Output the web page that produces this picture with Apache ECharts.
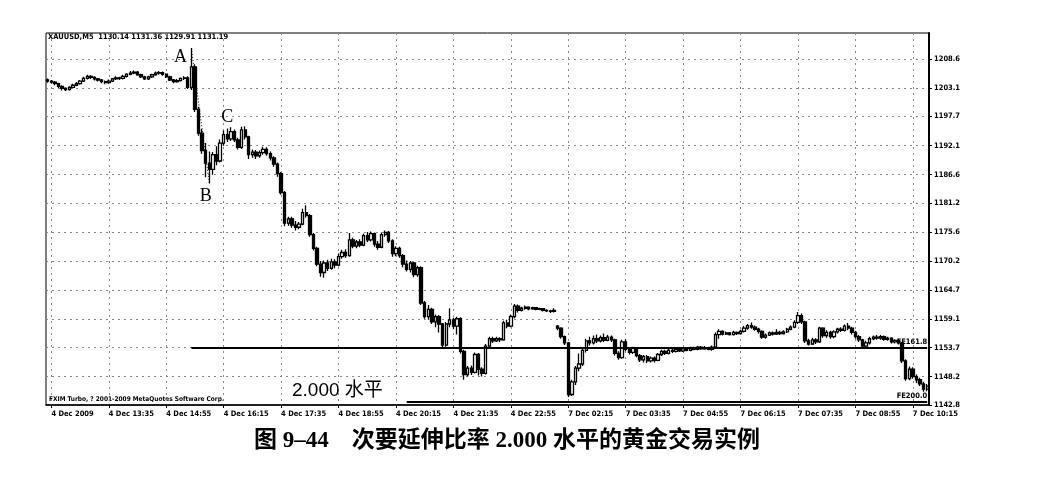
<!DOCTYPE html>
<html><head><meta charset="utf-8">
<script src="https://cdn.jsdelivr.net/npm/echarts/dist/echarts.min.js"></script>
<style>html,body{margin:0;padding:0;background:#fff}#c{width:1043px;height:478px}</style>
</head><body><div id="c"></div>
<script>
// Price axis tick values (as printed on the right-hand scale)
const yTicks = [1142.8, 1148.2, 1153.7, 1159.1, 1164.7, 1170.2, 1175.6, 1181.2, 1186.6, 1192.1, 1197.7, 1203.1, 1208.6];
// Bars that carry a time label, and their texts
const xTickBars = [1, 17, 33, 49, 65, 81, 97, 113, 129, 145, 161, 177, 193, 209, 225, 241];
const xTickLabels = ['4 Dec 2009', '4 Dec 13:35', '4 Dec 14:55', '4 Dec 16:15', '4 Dec 17:35', '4 Dec 18:55', '4 Dec 20:15', '4 Dec 21:35', '4 Dec 22:55', '7 Dec 02:15', '7 Dec 03:35', '7 Dec 04:55', '7 Dec 06:15', '7 Dec 07:35', '7 Dec 08:55', '7 Dec 10:15'];

// M5 candles [open, close, low, high] — Friday 4 Dec 12:10 .. 23:55
const fridayBars = [
[1204.6,1204.4,1204.1,1204.9],[1204.4,1204.2,1203.9,1204.6],[1204.2,1203.9,1203.6,1204.4],[1203.9,1203.4,1203.1,1204.1],
[1203.4,1203.0,1202.6,1203.6],[1203.0,1202.8,1202.5,1203.2],[1202.8,1203.2,1202.6,1203.4],[1203.2,1203.6,1203.0,1203.9],
[1203.6,1203.9,1203.4,1204.2],[1203.9,1204.4,1203.7,1204.6],[1204.4,1204.9,1204.2,1205.2],[1204.9,1205.3,1204.7,1205.6],
[1205.3,1205.1,1204.8,1205.5],[1205.1,1204.8,1204.5,1205.3],[1204.8,1204.6,1204.3,1205.0],[1204.6,1204.3,1204.0,1204.8],
[1204.3,1204.1,1203.8,1204.5],[1204.1,1204.4,1203.9,1204.7],[1204.4,1204.8,1204.2,1205.0],[1204.8,1205.0,1204.6,1205.3],
[1205.0,1204.9,1204.6,1205.2],[1204.9,1205.3,1204.7,1205.6],[1205.3,1205.7,1205.1,1205.9],[1205.7,1205.9,1205.5,1206.3],
[1205.9,1206.1,1205.7,1206.4],[1206.1,1205.6,1205.4,1206.3],[1205.6,1205.2,1205.0,1205.8],[1205.2,1204.8,1204.6,1205.4],
[1204.8,1205.2,1204.6,1205.4],[1205.2,1205.6,1205.0,1205.8],[1205.6,1205.9,1205.4,1206.2],[1205.9,1206.0,1205.6,1206.3],
[1206.0,1205.7,1205.4,1206.2],[1205.7,1205.2,1205.0,1205.9],[1205.2,1204.6,1204.4,1205.4],[1204.6,1204.3,1204.0,1204.8],
[1204.3,1204.5,1204.1,1204.8],[1204.5,1204.9,1204.3,1205.1],[1204.9,1205.0,1204.6,1205.3],[1205.0,1203.2,1202.9,1205.3],
[1203.2,1207.1,1202.7,1210.7],[1207.1,1199.0,1198.5,1207.6],[1199.0,1194.5,1194.0,1199.5],[1194.5,1191.2,1190.6,1195.3],
[1191.2,1188.8,1186.1,1192.6],[1188.8,1187.6,1184.9,1191.0],[1187.6,1190.4,1186.6,1190.9],[1190.4,1189.2,1188.4,1192.0],
[1189.2,1192.6,1188.9,1193.3],[1192.6,1194.2,1192.1,1195.0],[1194.2,1193.4,1192.8,1195.4],[1193.4,1194.8,1193.0,1195.6],
[1194.8,1193.2,1192.8,1195.2],[1193.2,1191.8,1191.4,1193.6],[1191.8,1195.1,1191.5,1195.7],[1195.1,1193.8,1193.3,1195.8],
[1193.8,1190.4,1189.6,1194.0],[1190.4,1190.9,1189.8,1191.4],[1190.9,1190.2,1189.6,1191.3],[1190.2,1190.8,1189.8,1191.2],
[1190.8,1191.4,1190.4,1191.9],[1191.4,1190.6,1190.2,1191.8],[1190.6,1189.8,1189.3,1191.0],[1189.8,1188.6,1188.1,1190.1],
[1188.6,1186.8,1186.2,1188.9],[1186.8,1183.2,1182.8,1187.1],[1183.2,1177.4,1176.8,1183.5],[1177.4,1178.2,1176.9,1178.6],
[1178.2,1177.0,1176.5,1178.6],[1177.0,1176.6,1176.0,1177.8],[1176.6,1177.2,1176.2,1177.6],[1177.2,1179.4,1177.0,1180.1],
[1179.4,1178.8,1178.4,1180.8],[1178.8,1175.2,1174.8,1179.1],[1175.2,1172.6,1172.2,1175.5],[1172.6,1169.6,1169.2,1172.9],
[1169.6,1168.0,1167.2,1170.2],[1168.0,1169.8,1167.0,1170.3],[1169.8,1168.8,1168.3,1170.4],[1168.8,1170.0,1168.5,1170.6],
[1170.0,1169.4,1168.8,1170.5],[1169.4,1171.0,1169.2,1171.6],[1171.0,1171.8,1170.6,1172.3],[1171.8,1171.2,1170.8,1172.4],
[1171.2,1174.2,1171.0,1175.5],[1174.2,1173.0,1172.6,1174.6],[1173.0,1173.8,1172.6,1174.2],[1173.8,1173.2,1172.8,1174.3],
[1173.2,1175.0,1173.0,1175.4],[1175.0,1174.2,1173.8,1175.7],[1174.2,1175.4,1173.9,1175.8],[1175.4,1173.4,1172.9,1175.6],
[1173.4,1172.8,1172.3,1174.0],[1172.8,1175.2,1172.6,1175.6],[1175.2,1175.6,1174.8,1176.0],[1175.6,1174.0,1173.6,1175.9],
[1174.0,1171.6,1171.0,1174.3],[1171.6,1172.6,1171.1,1173.0],[1172.6,1171.2,1170.8,1172.9],[1171.2,1169.6,1169.0,1171.5],
[1169.6,1168.6,1168.2,1170.3],[1168.6,1169.8,1168.0,1170.2],[1169.8,1167.6,1167.1,1170.0],[1167.6,1168.9,1167.2,1169.3],
[1168.9,1162.2,1161.8,1169.2],[1162.2,1159.6,1159.2,1162.6],[1159.6,1161.0,1159.0,1161.8],[1161.0,1158.6,1158.2,1161.3],
[1158.6,1159.6,1157.6,1160.0],[1159.6,1158.2,1156.6,1159.9],[1158.2,1154.2,1153.8,1158.4],[1154.2,1158.2,1153.9,1158.6],
[1158.2,1159.0,1157.6,1161.2],[1159.0,1157.8,1157.2,1159.4],[1157.8,1159.2,1156.2,1159.6],[1159.2,1153.0,1152.6,1159.5],
[1153.0,1148.6,1147.6,1153.3],[1148.6,1149.8,1148.2,1150.2],[1149.8,1149.0,1148.5,1150.3],[1149.0,1152.4,1148.8,1152.8],
[1152.4,1149.6,1148.4,1152.7],[1149.6,1148.8,1148.2,1150.0],[1148.8,1154.0,1148.6,1154.4],[1154.0,1155.4,1153.6,1155.8],
[1155.4,1155.0,1154.6,1155.8],[1155.0,1155.4,1154.8,1155.8],[1155.4,1155.2,1154.8,1155.7],[1155.2,1158.4,1155.0,1158.8],
[1158.4,1157.8,1157.4,1159.0],[1157.8,1159.6,1157.6,1160.0],[1159.6,1161.6,1159.3,1162.0],[1161.6,1160.8,1160.4,1161.9],
[1160.8,1161.2,1160.6,1161.5],[1161.2,1161.4,1160.9,1161.7],[1161.4,1161.1,1160.8,1161.6],[1161.1,1161.3,1160.9,1161.5],
[1161.3,1161.0,1160.8,1161.4],[1161.0,1161.1,1160.8,1161.3],[1161.1,1160.8,1160.6,1161.2],[1160.8,1160.7,1160.5,1161.0],
[1160.7,1160.6,1160.3,1160.9],[1160.6,1160.8,1160.4,1161.2]
];
// Monday 7 Dec 02:00 .. 10:35
const mondayBars = [
[1157.8,1157.4,1157.0,1158.0],[1157.4,1155.8,1155.4,1157.6],[1155.8,1154.6,1154.2,1156.0],[1154.6,1144.8,1144.3,1154.8],
[1144.8,1147.2,1144.5,1147.6],[1147.2,1149.8,1146.6,1150.2],[1149.8,1150.6,1149.2,1152.6],[1150.6,1153.2,1150.2,1153.6],
[1153.2,1155.0,1152.8,1155.4],[1155.0,1154.6,1154.1,1155.8],[1154.6,1155.4,1154.3,1156.0],[1155.4,1155.0,1154.6,1156.2],
[1155.0,1155.6,1154.7,1156.0],[1155.6,1155.1,1154.8,1156.4],[1155.1,1155.7,1154.9,1156.1],[1155.7,1155.2,1154.8,1156.0],
[1155.2,1152.6,1152.2,1155.4],[1152.6,1151.8,1151.4,1153.0],[1151.8,1154.8,1151.6,1155.2],[1154.8,1153.4,1153.0,1155.3],
[1153.4,1152.8,1152.4,1153.8],[1152.8,1153.6,1152.5,1153.9],[1153.6,1152.2,1151.9,1153.8],[1152.2,1151.4,1151.0,1152.5],
[1151.4,1152.0,1150.9,1152.3],[1152.0,1151.2,1150.8,1152.3],[1151.2,1151.7,1150.9,1152.0],[1151.7,1151.3,1150.9,1152.0],
[1151.3,1152.4,1151.1,1152.7],[1152.4,1153.0,1152.1,1153.3],[1153.0,1152.6,1152.3,1153.3],[1152.6,1153.2,1152.4,1153.8],
[1153.2,1153.0,1152.7,1153.5],[1153.0,1153.4,1152.8,1153.6],[1153.4,1153.1,1152.9,1153.6],[1153.1,1153.5,1152.9,1153.8],
[1153.5,1153.2,1153.0,1153.7],[1153.2,1153.7,1153.0,1153.9],[1153.7,1153.4,1153.2,1153.9],[1153.4,1153.8,1153.2,1154.0],
[1153.8,1153.5,1153.3,1154.0],[1153.5,1153.7,1153.3,1154.0],[1153.7,1153.4,1153.2,1153.9],[1153.4,1153.8,1153.1,1154.1],
[1153.8,1156.2,1153.6,1156.6],[1156.2,1156.8,1155.4,1157.2],[1156.8,1156.3,1156.0,1157.0],[1156.3,1156.5,1156.1,1156.8],
[1156.5,1156.2,1156.0,1156.7],[1156.2,1156.6,1156.0,1156.9],[1156.6,1156.4,1156.1,1156.8],[1156.4,1156.8,1156.2,1157.1],
[1156.8,1157.4,1156.6,1157.8],[1157.4,1157.9,1157.1,1158.2],[1157.9,1157.6,1157.3,1158.5],[1157.6,1157.2,1156.9,1157.9],
[1157.2,1156.8,1156.4,1157.5],[1156.8,1155.7,1155.4,1157.0],[1155.7,1156.1,1155.4,1156.4],[1156.1,1156.5,1155.9,1156.8],
[1156.5,1156.3,1156.0,1156.8],[1156.3,1156.6,1156.1,1157.2],[1156.6,1156.4,1156.1,1156.9],[1156.4,1156.7,1156.2,1157.0],
[1156.7,1157.2,1156.5,1157.5],[1157.2,1157.6,1157.0,1157.9],[1157.6,1158.5,1157.4,1158.9],[1158.5,1159.8,1158.2,1160.5],
[1159.8,1158.6,1158.2,1160.2],[1158.6,1155.0,1154.6,1158.8],[1155.0,1154.4,1154.1,1155.4],[1154.4,1155.2,1154.2,1155.6],
[1155.2,1154.8,1154.4,1155.5],[1154.8,1157.4,1154.6,1157.7],[1157.4,1156.0,1155.6,1157.6],[1156.0,1156.6,1155.6,1157.0],
[1156.6,1155.8,1155.4,1156.9],[1155.8,1156.7,1155.5,1157.0],[1156.7,1157.2,1156.4,1157.5],[1157.2,1157.0,1156.7,1157.6],
[1157.0,1157.8,1156.8,1158.1],[1157.8,1157.4,1157.0,1158.4],[1157.4,1156.6,1156.2,1157.7],[1156.6,1155.8,1155.4,1156.9],
[1155.8,1155.2,1154.8,1156.1],[1155.2,1154.0,1153.6,1155.4],[1154.0,1154.6,1153.7,1155.0],[1154.6,1155.4,1154.3,1155.8],
[1155.4,1155.7,1155.1,1156.0],[1155.7,1155.5,1155.2,1156.1],[1155.5,1155.8,1155.2,1156.1],[1155.8,1155.3,1155.0,1156.0],
[1155.3,1155.5,1155.0,1155.8],[1155.5,1154.8,1154.5,1155.7],[1154.8,1155.1,1154.5,1155.3],[1155.1,1154.6,1154.3,1155.4],
[1154.6,1151.2,1150.8,1154.8],[1151.2,1147.8,1147.4,1151.5],[1147.8,1149.6,1147.5,1150.1],[1149.6,1148.2,1147.8,1150.0],
[1148.2,1147.6,1147.0,1148.6],[1147.6,1146.8,1146.4,1148.0],[1146.8,1145.8,1145.3,1147.2],[1145.8,1146.4,1145.4,1146.8]
];

// Fibonacci expansion levels and drawn objects (bar index, price)
const feLevels = [
  { name: 'FE161.8', price: 1153.6, fromBar: 40 },
  { name: 'FE200.0', price: 1143.4, fromBar: 100 }
];
const abLine = [[40, 1210.7], [45, 1184.9]];
const pointLabels = [['A', 37, 1209.0], ['B', 44, 1182.4], ['C', 50, 1197.6]];

// time categories for every M5 bar
function times(day, startH, startM, n) {
  const out = [];
  for (let k = 0; k < n; k++) {
    const t = startH * 60 + startM + 5 * k;
    const h = Math.floor(t / 60), m = t % 60;
    out.push(day + ' ' + String(h).padStart(2, '0') + ':' + String(m).padStart(2, '0'));
  }
  return out;
}
const categories = times('4 Dec', 12, 10, fridayBars.length).concat(times('7 Dec', 2, 0, mondayBars.length));
const bars = fridayBars.concat(mondayBars);
const lastBar = bars.length - 1;

const smallFont = '"DejaVu Sans Condensed", "DejaVu Sans", sans-serif';
const isTick = (i) => xTickBars.indexOf(i) >= 0;

const chart = echarts.init(document.getElementById('c'), null, { renderer: 'canvas' });
chart.setOption({
  animation: false,
  backgroundColor: '#fff',
  grid: { left: 46, right: 114, top: 33, bottom: 73, show: true, borderColor: '#000', borderWidth: 1, backgroundColor: 'transparent' },
  xAxis: {
    type: 'category', data: categories, boundaryGap: true,
    axisLine: { show: true, lineStyle: { color: '#000', width: 1.5 } },
    axisTick: { show: true, interval: (i) => isTick(i), alignWithLabel: true, length: 3, lineStyle: { color: '#000' } },
    axisLabel: {
      show: true, interval: (i) => isTick(i), align: 'left', margin: 5, hideOverlap: false,
      formatter: (v, i) => xTickLabels[xTickBars.indexOf(i)] || '',
      fontFamily: smallFont, fontWeight: 'bold', fontSize: 7.5, color: '#000'
    },
    splitLine: { show: true, interval: (i) => isTick(i), alignWithLabel: true, lineStyle: { color: '#888', type: [2, 4], width: 1 } }
  },
  yAxis: {
    type: 'value', position: 'right', min: 1142.8, max: 1213.54, scale: true,
    axisLine: { show: true, lineStyle: { color: '#000', width: 2 } },
    axisTick: { show: true, customValues: yTicks, length: 3, lineStyle: { color: '#000' } },
    axisLabel: {
      show: true, customValues: yTicks, margin: 5, formatter: (v) => v.toFixed(1),
      fontFamily: smallFont, fontWeight: 'bold', fontSize: 7.5, color: '#000'
    },
    splitLine: { show: true, lineStyle: { color: '#888', type: [2, 4], width: 1 } }
  },
  series: [{
    type: 'candlestick',
    data: bars,
    barWidth: '80%',
    itemStyle: { color: '#fff', color0: '#000', borderColor: '#000', borderColor0: '#000', borderWidth: 1.3 },
    markLine: {
      silent: true, symbol: ['none', 'none'], animation: false,
      data: feLevels.map(f => [
        { coord: [f.fromBar, f.price], lineStyle: { color: '#000', width: 2, type: 'solid' } },
        { coord: [lastBar, f.price], label: { show: true, position: 'insideEndTop', formatter: f.name, distance: [0, 2],
          fontFamily: smallFont, fontWeight: 'bold', fontSize: 7.5, color: '#000' } }
      ]).concat([[
        { coord: abLine[0], lineStyle: { color: '#000', width: 1, type: [1, 2] } },
        { coord: abLine[1], label: { show: false } }
      ]])
    },
    markPoint: {
      silent: true, animation: false,
      data: pointLabels.map(p => ({
        name: p[0], coord: [p[1], p[2]], symbol: 'rect', symbolSize: 1,
        itemStyle: { color: 'rgba(0,0,0,0)' },
        label: { show: true, position: 'inside', formatter: p[0], fontFamily: '"Liberation Serif", serif', fontSize: 18, color: '#000' }
      }))
    }
  }],
  graphic: [
    { type: 'text', left: 48, top: 33, style: { text: 'XAUUSD,M5  1130.14 1131.36 1129.91 1131.19', font: 'bold 7.5px ' + smallFont, fill: '#000' } },
    { type: 'text', left: 49, top: 396, style: { text: 'FXIM Turbo, ? 2001-2009 MetaQuotes Software Corp.', font: 'bold 6.5px ' + smallFont, fill: '#000' } },
    { type: 'text', left: 292, top: 381, style: { text: '2.000 水平', font: '19px "Liberation Sans", "Noto Sans CJK SC", sans-serif', fill: '#000' } },
    { type: 'text', left: 254, top: 430, style: { text: '图 9–44　次要延伸比率 2.000 水平的黄金交易实例', font: 'bold 23px "Liberation Serif", "Noto Sans CJK SC", serif', fill: '#000' } }
  ]
});
</script>
</body></html>
